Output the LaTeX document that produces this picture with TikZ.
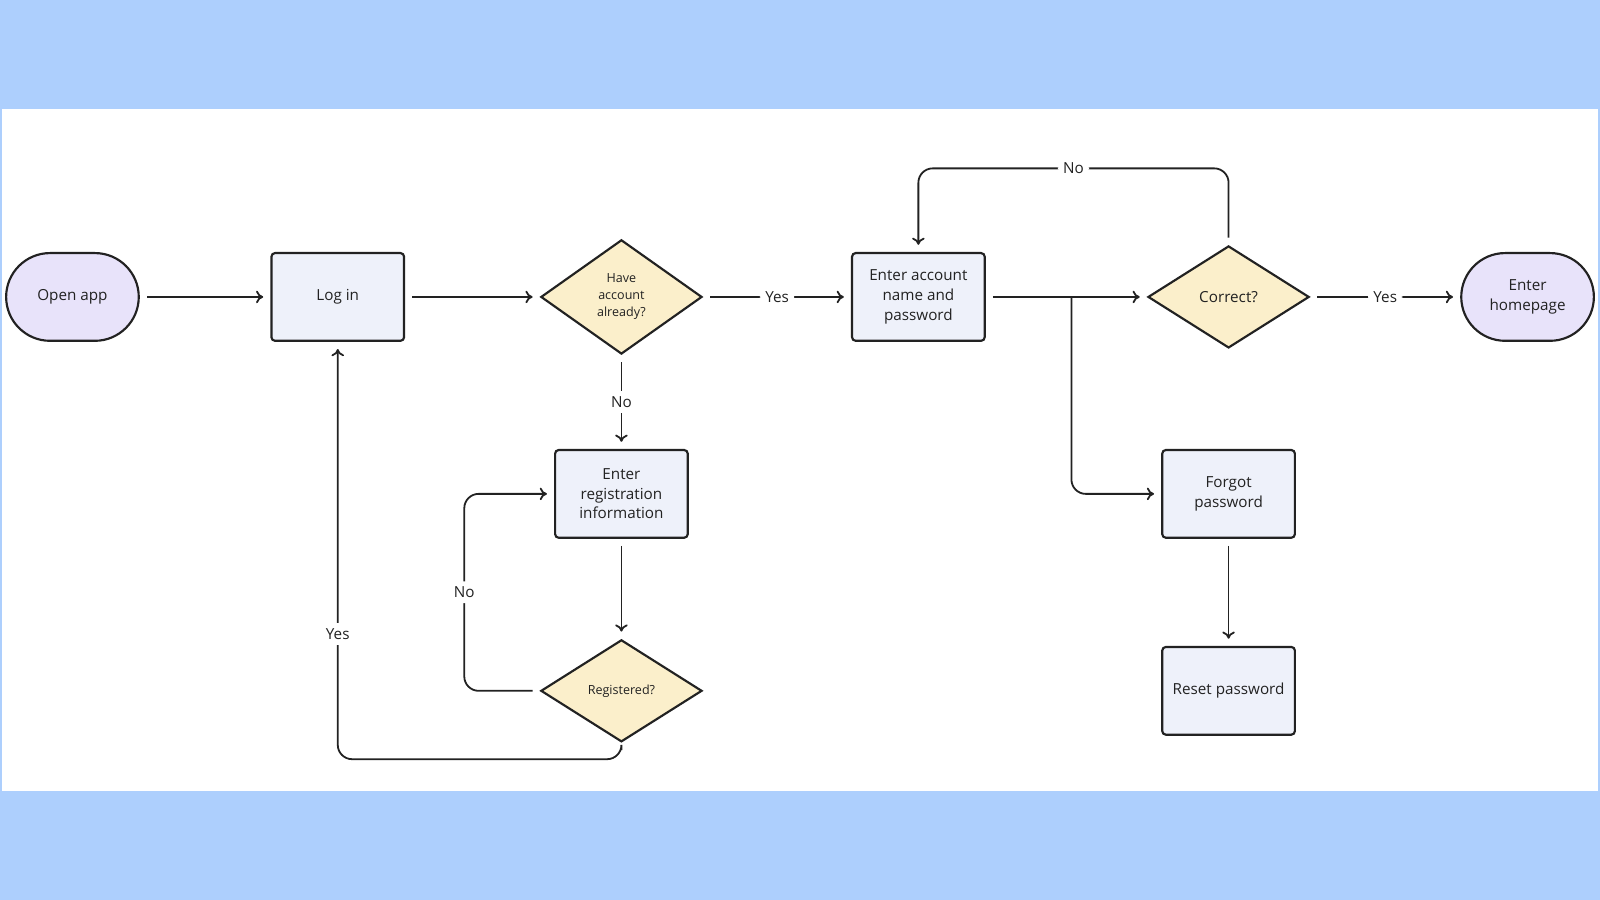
\documentclass[tikz,border=0pt]{standalone}
\usepackage{fontspec}
\setmainfont{Open Sans}
\usetikzlibrary{shapes.geometric,arrows.meta,positioning}
\definecolor{bgblue}{HTML}{ADCFFD}
\definecolor{boxfill}{HTML}{EEF1FA}
\definecolor{termfill}{HTML}{E8E3FA}
\definecolor{decfill}{HTML}{FBEFCB}
\definecolor{ink}{HTML}{222222}
\tikzset{
  base/.style={draw=ink,line width=1.2pt,text=ink,align=center,font=\fontsize{8.5}{11}\selectfont},
  term/.style={base,fill=termfill,rounded corners=0.86cm,minimum width=2.6cm,minimum height=1.72cm},
  box/.style={base,fill=boxfill,rounded corners=2pt,minimum width=2.6cm,minimum height=1.72cm},
  dec/.style={base,fill=decfill,diamond,aspect=1.5,inner sep=0pt,minimum width=3.16cm,minimum height=2.0cm},
  link/.style={draw=ink,line width=1pt,-{To[length=4pt,width=7pt]},rounded corners=8pt,shorten >=4pt,shorten <=4pt},
  lbl/.style={fill=white,text=ink,inner sep=3pt,font=\fontsize{8.5}{10}\selectfont}
}
\begin{document}
\begin{tikzpicture}[x=0.02cm,y=-0.02cm]
% background
\fill[bgblue] (0,0) rectangle (1568,882);
\fill[white] (2,107) rectangle (1566,775);
\useasboundingbox (0,0) rectangle (1568,882);

% nodes
\node[term] (open) at (71,291) {Open app};
\node[box] (login) at (331,291) {Log in};
\node[dec,minimum height=2.24cm,font=\fontsize{7}{9.5}\selectfont] (have) at (609,291) {Have\\account\\already?};
\node[box] (enter) at (900,291) {Enter account\\name and\\password};
\node[dec] (correct) at (1204,291) {Correct?};
\node[term] (home) at (1497,291) {Enter\\homepage};
\node[box] (reg) at (609,484) {Enter\\registration\\information};
\node[dec,font=\fontsize{7}{9.5}\selectfont] (done) at (609,677) {Registered?};
\node[box] (forgot) at (1204,484) {Forgot\\password};
\node[box] (reset) at (1204,677) {Reset password};

% straight links
\draw[link] (open) -- (login);
\draw[link] (login) -- (have);
\draw[link] (have) -- node[lbl] {Yes} (enter);
\draw[link] (have) -- node[lbl] {No} (reg);
\draw[link] (reg) -- (done);
\draw[link] (enter) -- (correct);
\draw[link] (correct) -- node[lbl] {Yes} (home);
\draw[link] (forgot) -- (reset);

% bent links
\draw[link] (done.west) -- (455,677) -- node[lbl] {No} (455,484) -- (reg.west);
\draw[link] (done.south) -- (609,744) -- (331,744) -- node[lbl,pos=0.3] {Yes} (login.south);
\draw[link,shorten <=0pt] (1050,291) -- (1050,484) -- (forgot.west);
\draw[link] (correct.north) -- (1204,165) -- node[lbl] {No} (900,165) -- (enter.north);
\end{tikzpicture}
\end{document}
